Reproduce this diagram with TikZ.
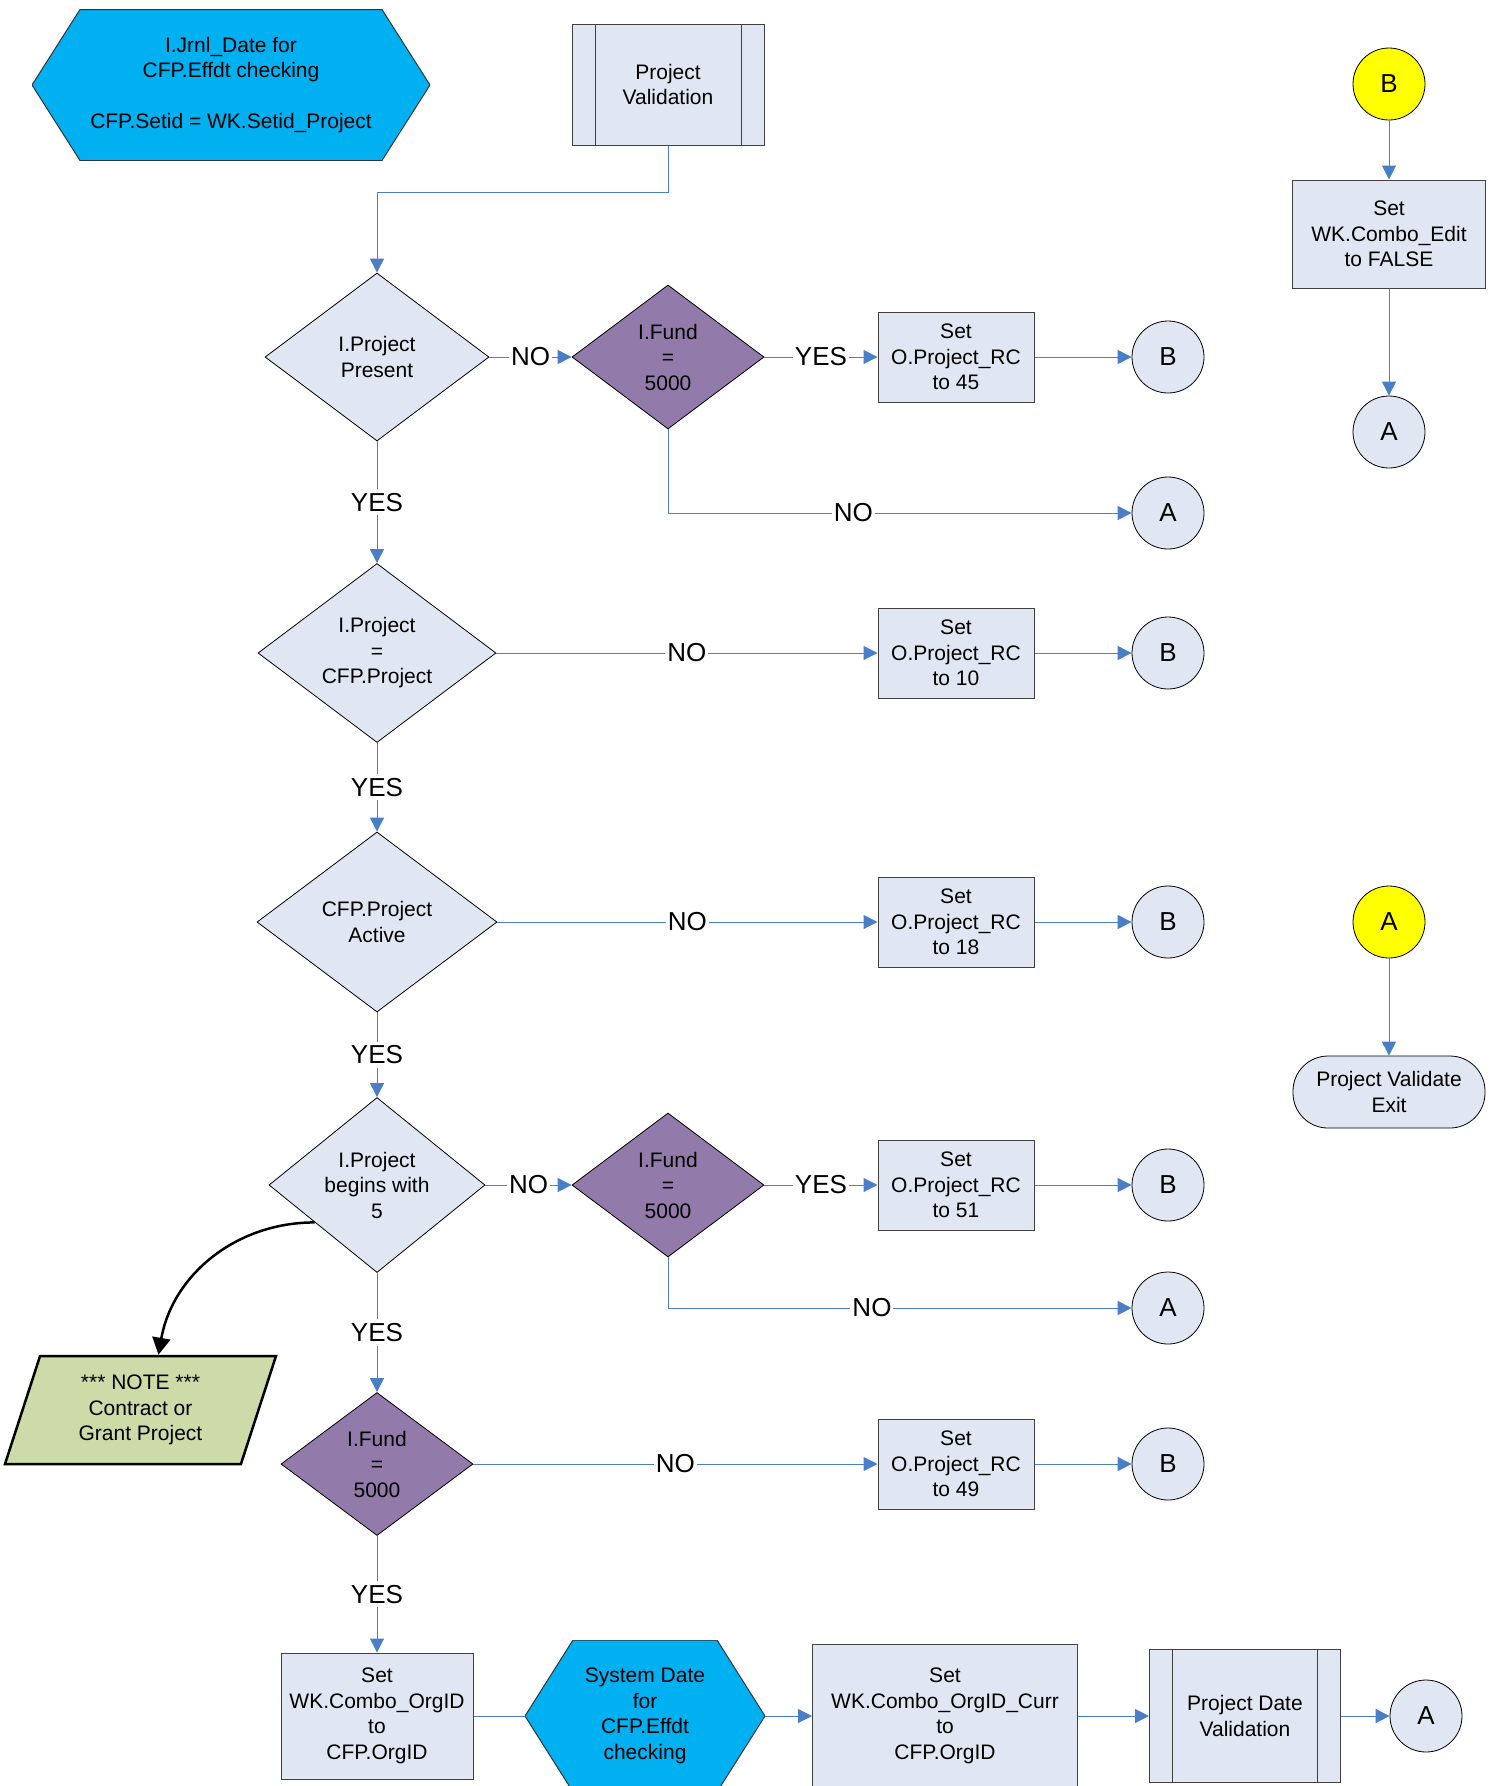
\documentclass[tikz,border=0pt]{standalone}
\usepackage{fontspec}
\setmainfont{Liberation Sans}
\usepackage{tikz}
\usetikzlibrary{shapes.geometric,arrows.meta}

\definecolor{boxfill}{RGB}{224,231,243}
\definecolor{fundfill}{RGB}{146,122,170}
\definecolor{prepfill}{RGB}{0,176,240}
\definecolor{notefill}{RGB}{204,219,168}
\definecolor{yellowfill}{RGB}{255,255,0}
\definecolor{flowblue}{RGB}{74,126,198}

\begin{document}
\begin{tikzpicture}[x=1pt, y=-1pt,
        every node/.style={font=\fontsize{21}{25.5}\selectfont, align=center, inner sep=0pt},
        >={Triangle[length=14pt, width=14pt]},
        flow/.style={draw=flowblue, line width=1pt},
        notearrow/.style={draw=black, line width=2.5pt, >={Triangle[length=17pt, width=18pt]}, ->},
        answer/.style={fill=white, inner xsep=2pt, inner ysep=4pt, font=\fontsize{26}{30}\selectfont},
        decision/.style={diamond, aspect=1.33, draw, line width=0.8pt, fill=boxfill},
        funddecision/.style={decision, fill=fundfill, minimum width=192pt, minimum height=144pt},
        process/.style={rectangle, draw=black!75, line width=1pt, fill=boxfill, minimum width=156pt, minimum height=90pt},
        subprocess/.style={process, path picture={
            \draw[black!75, line width=1pt] ([xshift=23pt]path picture bounding box.north west) -- ([xshift=23pt]path picture bounding box.south west);
            \draw[black!75, line width=1pt] ([xshift=-23pt]path picture bounding box.north east) -- ([xshift=-23pt]path picture bounding box.south east);
        }},
        preparation/.style={rectangle, path picture={
            \filldraw[fill=prepfill, draw=black!80, line width=1pt]
                ([xshift=48pt]path picture bounding box.north west) -- ([xshift=-48pt]path picture bounding box.north east) --
                (path picture bounding box.east) -- ([xshift=-48pt]path picture bounding box.south east) --
                ([xshift=48pt]path picture bounding box.south west) -- (path picture bounding box.west) -- cycle;
        }},
        offpage/.style={circle, draw, line width=0.8pt, fill=boxfill, minimum size=72pt, font=\fontsize{26}{30}\selectfont},
        terminal/.style={rectangle, rounded corners=35pt, draw, line width=0.8pt, fill=boxfill, minimum width=192pt, minimum height=72pt},
        notebox/.style={trapezium, trapezium left angle=63.4, trapezium right angle=116.6, trapezium stretches body,
            draw, line width=2.5pt, fill=notefill, minimum width=271pt, minimum height=108pt}
    ]
        \pgfmathsetmacro{\mainX}{377}
        \pgfmathsetmacro{\fundX}{668}
        \pgfmathsetmacro{\setX}{956}
        \pgfmathsetmacro{\endX}{1168}
        \pgfmathsetmacro{\sideX}{1389}

        \useasboundingbox (0,0) rectangle (1498,1786);

        \node[preparation, minimum width=398pt, minimum height=151pt] (jrnldate) at (231,85)
            {I.Jrnl\_Date for\\CFP.Effdt checking\\[25.5pt]CFP.Setid = WK.Setid\_Project};
        \node[subprocess, minimum width=192pt, minimum height=121pt] (projval) at (\fundX,84.5) {Project\\Validation};
        \coordinate (split) at (\mainX,192);

        \node[decision, minimum width=224pt, minimum height=168pt] (present) at (\mainX,357) {I.Project\\Present};
        \node[funddecision] (fundone) at (\fundX,357) {I.Fund\\=\\5000};
        \node[decision, minimum width=238pt, minimum height=179pt] (match) at (\mainX,653) {I.Project\\=\\CFP.Project};
        \node[decision, minimum width=240pt, minimum height=180pt] (active) at (\mainX,922) {CFP.Project\\Active};
        \node[decision, minimum width=216pt, minimum height=175pt] (begins) at (\mainX,1185) {I.Project\\begins with\\5};
        \node[funddecision] (fundtwo) at (\fundX,1185) {I.Fund\\=\\5000};
        \node[funddecision, minimum height=143pt] (fundthree) at (\mainX,1464) {I.Fund\\=\\5000};

        \foreach \yy/\rc in {357/45, 653/10, 922/18, 1185/51, 1464/49}{
            \node[process] (rc\rc) at (\setX,\yy) {Set\\O.Project\_RC\\to \rc};
            \node[offpage] (b\rc) at (\endX,\yy) {B};
            \draw[flow, ->] (rc\rc) -- (b\rc);
        }
        \node[offpage] (aone) at (\endX,513) {A};
        \node[offpage] (atwo) at (\endX,1308) {A};

        \node[process, minimum width=192pt, minimum height=126pt] (orgid) at (\mainX,1716) {Set\\WK.Combo\_OrgID\\to\\CFP.OrgID};
        \node[preparation, minimum width=240pt, minimum height=152pt] (sysdate) at (645,1716) {System Date\\for\\CFP.Effdt\\checking};
        \node[process, minimum width=265pt, minimum height=144pt] (orgcurr) at (945,1716) {Set\\WK.Combo\_OrgID\_Curr\\to\\CFP.OrgID};
        \node[subprocess, minimum width=191pt, minimum height=133pt] (datevalid) at (1245,1716) {Project Date\\Validation};
        \node[offpage] (athree) at (1426,1716) {A};

        \node[offpage, fill=yellowfill] (entryb) at (\sideX,84) {B};
        \node[process, minimum width=193pt, minimum height=108pt] (comboedit) at (\sideX,234) {Set\\WK.Combo\_Edit\\to FALSE};
        \node[offpage] (afour) at (\sideX,432) {A};
        \node[offpage, fill=yellowfill] (entrya) at (\sideX,922) {A};
        \node[terminal] (exit) at (\sideX,1092) {Project Validate\\Exit};

        \node[notebox] (note) at (140.5,1410) {*** NOTE ***\\Contract or\\Grant Project};

        \draw[flow, ->] (projval.south) |- (split) -- (present);
        \draw[flow, ->] (present) -- node[answer] {NO} (fundone);
        \draw[flow, ->] (fundone) -- node[answer] {YES} (rc45);
        \draw[flow, ->] (fundone) |- node[answer, pos=0.7] {NO} (aone);
        \draw[flow, ->] (present) -- node[answer] {YES} (match);
        \draw[flow, ->] (match) -- node[answer] {NO} (rc10);
        \draw[flow, ->] (match) -- node[answer] {YES} (active);
        \draw[flow, ->] (active) -- node[answer] {NO} (rc18);
        \draw[flow, ->] (active) -- node[answer] {YES} (begins);
        \draw[flow, ->] (begins) -- node[answer] {NO} (fundtwo);
        \draw[flow, ->] (fundtwo) -- node[answer] {YES} (rc51);
        \draw[flow, ->] (fundtwo) |- node[answer, pos=0.72] {NO} (atwo);
        \draw[flow, ->] (begins) -- node[answer] {YES} (fundthree);
        \draw[flow, ->] (fundthree) -- node[answer] {NO} (rc49);
        \draw[flow, ->] (fundthree) -- node[answer] {YES} (orgid);
        \draw[flow] (orgid) -- (sysdate);
        \draw[flow, ->] (sysdate) -- (orgcurr);
        \draw[flow, ->] (orgcurr) -- (datevalid);
        \draw[flow, ->] (datevalid) -- (athree);
        \draw[flow, ->] (entryb) -- (comboedit);
        \draw[flow, ->] (comboedit) -- (afour);
        \draw[flow, ->] (entrya) -- (exit);
        \draw[notearrow] (begins.211) to[out=180, in=80] (note.top side);
    \end{tikzpicture}
\end{document}
